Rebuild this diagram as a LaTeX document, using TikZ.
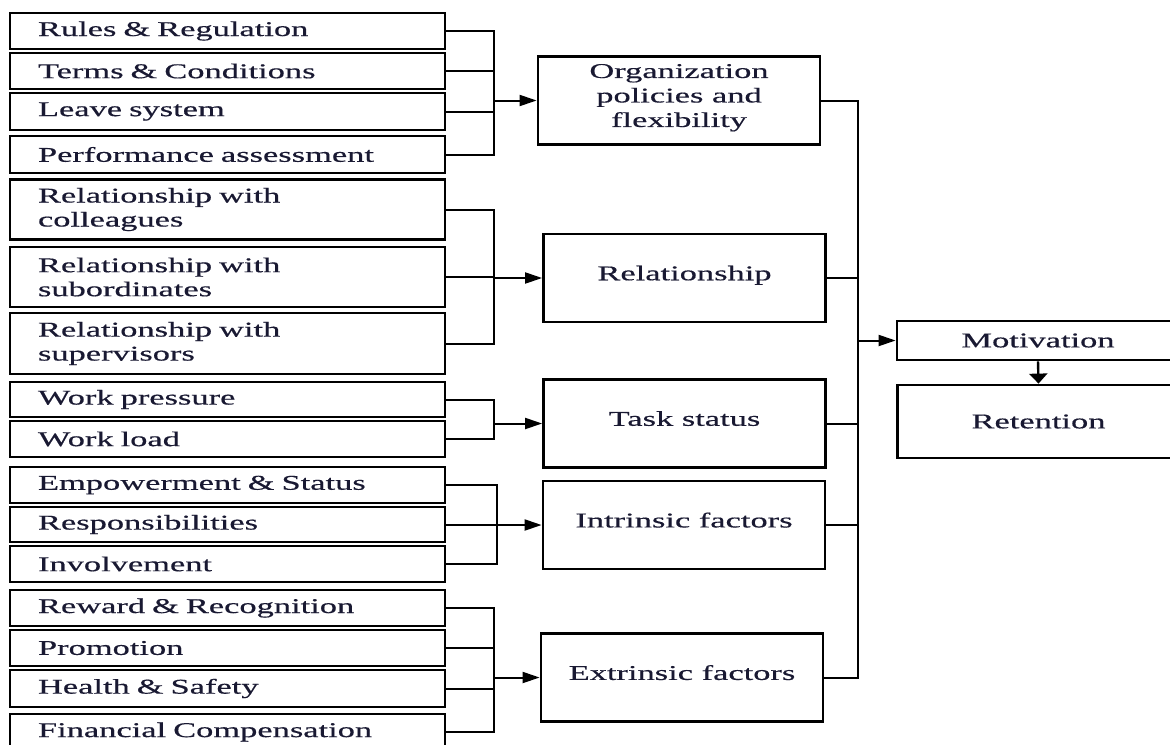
\documentclass[tikz,border=0pt]{standalone}
\usepackage{fontspec}
\setmainfont{Liberation Serif}[FakeStretch=1.64, FakeBold=0.5]
\usetikzlibrary{arrows.meta, positioning}
\usepackage{xcolor}
\definecolor{inkcolor}{RGB}{25,25,50}
\tikzset{
  factor/.style  = {draw, line width=1.4pt, rectangle, minimum width=217.5pt,
                    text width=189.5pt, align=left, inner xsep=14pt, inner ysep=0pt,
                    font=\fontsize{10.5}{12}\selectfont, text=inkcolor},
  group/.style   = {draw, line width=1.4pt, rectangle, minimum width=141pt,
                    minimum height=44pt, align=center, inner sep=0pt, text depth=5pt,
                    font=\fontsize{10.5}{12.25}\selectfont, text=inkcolor},
  outcome/.style = {draw, line width=1.4pt, rectangle, minimum width=141pt,
                    align=center, inner sep=0pt,
                    font=\fontsize{10.5}{12.25}\selectfont, text=inkcolor},
  link/.style    = {line width=1pt},
  arrow/.style   = {-{Triangle[length=8.5pt, width=5.5pt]}, line width=1pt},
  downarrow/.style = {-{Triangle[length=5pt, width=9pt]}, line width=1.2pt},
}

\begin{document}
\begin{tikzpicture}[x=0.5pt, y=-0.5pt]
  \clip (0,0) rectangle (1170,744);
  % factors on the left
  \foreach \n/\y/\h/\lbl in {r1/31/18pt/Rules \& Regulation,
                              r2/71/18pt/Terms \& Conditions,
                              r3/111.5/18.5pt/Leave system,
                              r4/154.5/18.5pt/Performance assessment,
                              r5/209.5/30pt/{Relationship with\\colleagues},
                              r6/277/30pt/{Relationship with\\subordinates},
                              r7/343.5/30.5pt/{Relationship with\\supervisors},
                              r8/399.5/17.5pt/Work pressure,
                              r9/439/18pt/Work load,
                              r10/485/18pt/Empowerment \& Status,
                              r11/524.5/17.5pt/Responsibilities,
                              r12/564/18pt/Involvement,
                              r13/608/18pt/Reward \& Recognition,
                              r14/648/18pt/Promotion,
                              r15/688.5/18.5pt/Health \& Safety,
                              r16/732/18pt/Financial Compensation} {
    \node[factor, minimum height=\h] (\n) at (227.5,\y) {\lbl};
  }
  % grouped factors
  \node[group] (org)  at (679,100.5)   {Organization\\policies and\\flexibility};
  \node[group] (rel)  at (684.5,278)   {Relationship};
  \node[group] (task) at (684.5,423.5) {Task status};
  \node[group] (intr) at (684,525)     {Intrinsic factors};
  \node[group] (extr) at (682,677.5)   {Extrinsic factors};
  % outcomes
  \node[outcome, minimum height=19.5pt] (mot) at (1038,340.5)   {Motivation};
  \node[outcome, minimum height=36.5pt] (ret) at (1038.5,421.5) {Retention};
  % bracket columns
  \coordinate (b1) at (494,0);
  \coordinate (b4) at (497,0);
  \coordinate (trunk) at (858,0);
  % brackets into the groups
  \draw[link] (r1.east) -| (b1 |- r4.east) -- (r4.east);
  \foreach \n in {r2, r3} \draw[link] (\n.east) -- (b1 |- \n.east);
  \draw[arrow] (b1 |- org.west) -- (org.west);
  \draw[link] (r5.east) -| (b1 |- r7.east) -- (r7.east);
  \draw[link] (r6.east) -- (b1 |- r6.east);
  \draw[arrow] (b1 |- rel.west) -- (rel.west);
  \draw[link] (r8.east) -| (b1 |- r9.east) -- (r9.east);
  \draw[arrow] (b1 |- task.west) -- (task.west);
  \draw[link] (r10.east) -| (b4 |- r12.east) -- (r12.east);
  \draw[link] (r11.east) -- (b4 |- r11.east);
  \draw[arrow] (b4 |- intr.west) -- (intr.west);
  \draw[link] (r13.east) -| (b1 |- r16.east) -- (r16.east);
  \foreach \n in {r14, r15} \draw[link] (\n.east) -- (b1 |- \n.east);
  \draw[arrow] (b1 |- extr.west) -- (extr.west);
  % groups into motivation
  \draw[link] (org.east) -| (trunk |- extr.east) -- (extr.east);
  \foreach \g in {rel, task, intr} \draw[link] (\g.east) -- (trunk |- \g.east);
  \draw[arrow] (trunk |- mot.west) -- (mot.west);
  \draw[downarrow] (mot.south) -- (ret.north);
\end{tikzpicture}
\end{document}
